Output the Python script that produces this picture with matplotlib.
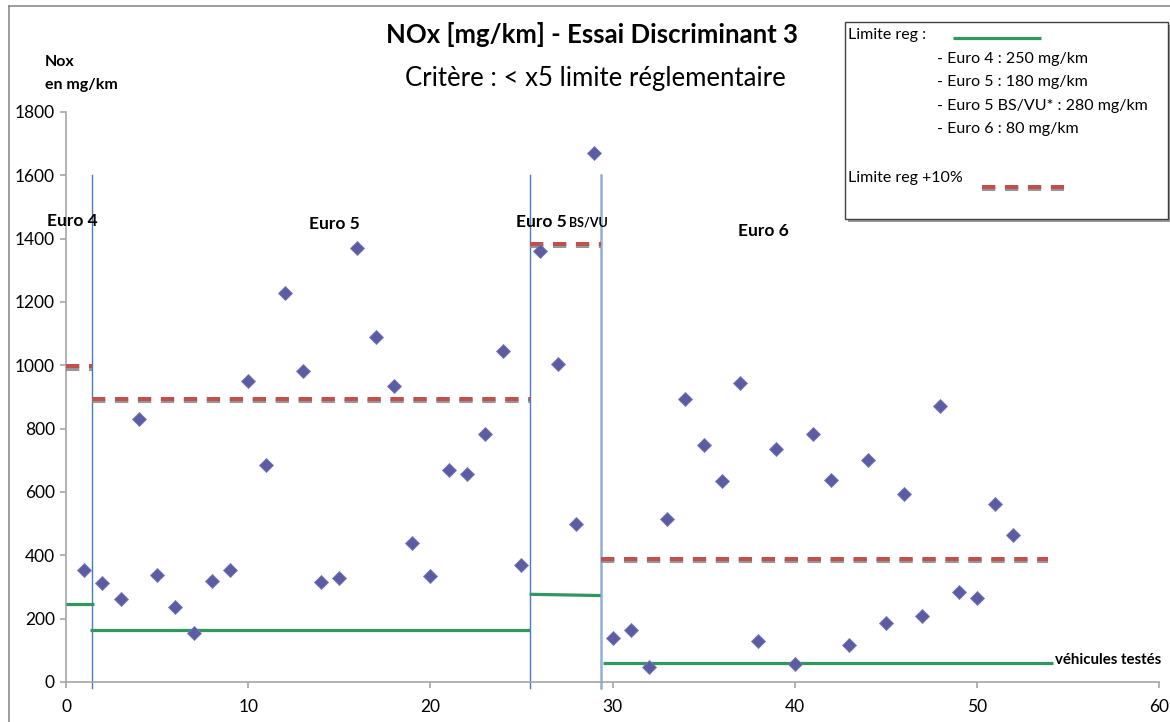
import matplotlib
matplotlib.use("Agg")
import matplotlib.pyplot as plt
import matplotlib.patheffects as pe
from matplotlib.lines import Line2D
from matplotlib.patches import Rectangle

plt.rcParams['font.family'] = ['Lato', 'DejaVu Sans']

# ---------------- data ----------------
vehicles = list(range(1, 53))
nox = [355, 313, 262, 829, 337, 237, 156, 318, 353, 952,
       686, 1228, 983, 317, 329, 1369, 1091, 936, 438, 335,
       669, 658, 782, 1045, 369, 1360, 1004, 498, 1670, 139,
       165, 47, 515, 893, 747, 636, 943, 129, 737, 57,
       783, 639, 116, 700, 186, 593, 210, 873, 285, 264,
       562, 463]

# regulatory limit segments (x start, x end, y start, y end)
limit_x = [[0, 1.55], [1.3, 25.45], [25.45, 29.35], [29.5, 54.2]]
limit_y = [[245, 245], [165, 165], [277, 273], [60, 60]]
# limit +10% segments
limit10_x = [[0, 1.45], [1.45, 25.45], [25.45, 29.35], [29.35, 53.9]]
limit10_y = [[997, 997], [893, 893], [1383, 1383], [388, 388]]

# category separators
sep_x = [1.45, 25.45, 29.35]
sep_top = 1600

group_labels = ["Euro 4", "Euro 5", "Euro 6"]
group_label_x = [-1.05, 13.35, 36.9]
group_label_y = [1439, 1432, 1407]

legend_lines = ["- Euro 4 : 250 mg/km", "- Euro 5 : 180 mg/km",
                "- Euro 5 BS/VU* : 280 mg/km", "- Euro 6 : 80 mg/km"]

x_ticks = [0, 10, 20, 30, 40, 50, 60]
y_ticks = [0, 200, 400, 600, 800, 1000, 1200, 1400, 1600, 1800]

# ---------------- style ----------------
W, H = 1170, 722
GREEN = '#31965F'
RED = '#C0504D'
MARK = '#5C5CA3'
SPINE = '#A6A6A6'

def fx(px):
    return px / W

def fy(py):
    return 1 - py / H

fig = plt.figure(figsize=(W / 100, H / 100), dpi=100)
ax = fig.add_axes([fx(66), fy(682), (1159 - 66) / W, (682 - 112) / H])

ax.set_xlim(0, 60)
ax.set_ylim(0, 1800)
ax.set_xticks(x_ticks)
ax.set_yticks(y_ticks)
for s in ['top', 'right']:
    ax.spines[s].set_visible(False)
for s in ['left', 'bottom']:
    ax.spines[s].set_color(SPINE)
    ax.spines[s].set_linewidth(1.2)
ax.tick_params(axis='both', colors=SPINE, length=4, width=1.2, labelcolor='black',
               labelsize=12.5)
ax.tick_params(axis='y', pad=4)
ax.tick_params(axis='x', pad=8)

dash_effects = [pe.SimpleLineShadow(offset=(0, -1.6), shadow_color='#8C8C8C', alpha=0.9),
                pe.Normal()]

# separators
for i, xs in enumerate(sep_x):
    col = '#4A7EBB' if i < 2 else '#8EB0DA'
    lw = 1.0 if i < 2 else 1.8
    ax.plot([xs, xs], [-20, sep_top], color=col, lw=lw, clip_on=False, zorder=2)

# limit lines
for xs, ys in zip(limit_x, limit_y):
    ax.plot(xs, ys, color=GREEN, lw=2.3, solid_capstyle='butt', zorder=3)
for xs, ys in zip(limit10_x, limit10_y):
    ax.plot(xs, ys, color=RED, lw=2.9, linestyle=(0, (3.3, 2.4)),
            dash_capstyle='butt', path_effects=dash_effects, zorder=3)

# data points
ax.plot(vehicles, nox, linestyle='none', marker='D', ms=6.8, color=MARK,
        markeredgecolor='#7A7AB8', markeredgewidth=0.6, zorder=4)

# group labels
for lab, xl, yl in zip(group_labels, group_label_x, group_label_y):
    ax.text(xl, yl, lab, fontsize=12.5, fontweight='bold', ha='left', va='baseline',
            clip_on=False)
ax.text(24.71, 1437, "Euro 5", fontsize=12.5, fontweight='bold', ha='left', va='baseline')
ax.text(27.6, 1437, "BS/VU", fontsize=9, fontweight='bold', ha='left', va='baseline')
ax.text(54.3, 57, "véhicules testés", fontsize=10.8, fontweight='bold', ha='left',
        va='baseline', clip_on=False)

# titles
fig.text(fx(592), fy(43), "NOx [mg/km] - Essai Discriminant 3", fontsize=18.5,
         fontweight='bold', ha='center', va='baseline')
fig.text(fx(595), fy(86), "Critère : < x5 limite réglementaire", fontsize=18.5,
         ha='center', va='baseline')
fig.text(fx(45), fy(66), "Nox", fontsize=11.5, fontweight='bold', ha='left', va='baseline')
fig.text(fx(45), fy(89), "en mg/km", fontsize=11.5, fontweight='bold', ha='left', va='baseline')

# chart border
fig.add_artist(Line2D([fx(9), fx(9)], [fy(6), fy(722)], color='#8C8C8C', lw=1.2))
fig.add_artist(Line2D([fx(9), fx(1170)], [fy(6), fy(6)], color='#8C8C8C', lw=1.2))

# legend box with shadow
fig.add_artist(Rectangle((fx(848), fy(222)), (1170 - 848) / W, (222 - 25) / H,
                         facecolor='#9A9A9A', edgecolor='none', zorder=5))
fig.add_artist(Rectangle((fx(845), fy(219)), (1168 - 845) / W, (219 - 22) / H,
                         facecolor='white', edgecolor='#404040', lw=1.0, zorder=6))
fig.text(fx(848), fy(39), "Limite reg :", fontsize=11.5, ha='left', va='baseline', zorder=7)
fig.add_artist(Line2D([fx(953), fx(1041)], [fy(38), fy(38)], color=GREEN, lw=2.3,
                      solid_capstyle='butt', zorder=7))
for i, t in enumerate(legend_lines):
    fig.text(fx(937), fy(63 + i * 23.4), t, fontsize=11.5, ha='left', va='baseline', zorder=7)
fig.text(fx(848), fy(182), "Limite reg +10%", fontsize=11.5, ha='left', va='baseline', zorder=7)
fig.add_artist(Line2D([fx(982), fx(1064)], [fy(187), fy(187)], color=RED, lw=2.9,
                      linestyle=(0, (3.3, 2.4)), dash_capstyle='butt',
                      path_effects=dash_effects, zorder=7))

fig.savefig("out.png", dpi=100)
